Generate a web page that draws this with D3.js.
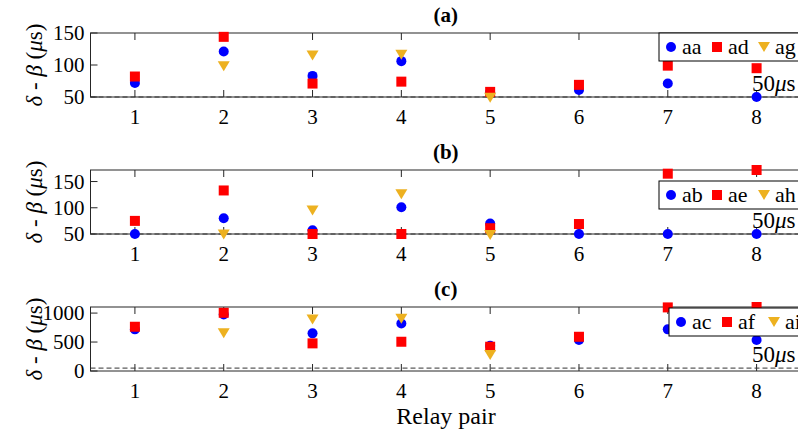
<!DOCTYPE html>
<html>
<head>
<meta charset="utf-8">
<script src="https://cdn.jsdelivr.net/npm/d3@7"></script>
</head>
<body style="margin:0">
<script>
// relay pairs on the x axis
var pairs = [1, 2, 3, 4, 5, 6, 7, 8];

// panel (a)
var aaVals = [72, 121, 83, 106, 57, 61, 71, 50];
var adVals = [82, 144, 71, 74, 58, 69, 99, 95];
var agVals = [null, 98, 115, 116, 49, null, null, null];

// panel (b)
var abVals = [50, 80, 57, 101, 70, 50, 50, 50];
var aeVals = [75, 133, 50, 50, 61, 69, 165, 172];
var ahVals = [null, 49, 95, 126, 48, null, null, null];

// panel (c)
var acVals = [719, 977, 650, 820, 436, 534, 719, 534];
var afVals = [764, 1005, 477, 505, 419, 591, 1098, 1105];
var aiVals = [null, 650, 891, 900, 276, null, null, null];

var panels = [
	{ title: "(a)", names: ["aa", "ad", "ag"], series: [aaVals, adVals, agVals], domain: [50, 150], ticks: [50, 100, 150], top: 33, bottom: 97, legendX: 659, legendY: 33 },
	{ title: "(b)", names: ["ab", "ae", "ah"], series: [abVals, aeVals, ahVals], domain: [50, 172], ticks: [50, 100, 150], top: 170, bottom: 234, legendX: 659, legendY: 181 },
	{ title: "(c)", names: ["ac", "af", "ai"], series: [acVals, afVals, aiVals], domain: [0, 1105], ticks: [0, 500, 1000], top: 307, bottom: 371, legendX: 669, legendY: 308 },
];

var colors = ["#0000ff", "#ff0000", "#edb120"];
var shapes = ["circle", "square", "triangle"];
var limit = 50; // dashed reference line

var width = 798,
	height = 441;
var left = 90.5,
	right = 801;

var svg = d3.select("body").append("svg")
	.attr("width", width).attr("height", height)
	.attr("font-family", "Liberation Serif");

var x = d3.scaleLinear().domain([0.5, 8.5]).range([left, right]);

function drawMarker(g, shape, color, cx, cy) {
	if (shape === "circle") {
		g.append("circle").attr("cx", cx).attr("cy", cy).attr("r", 5).attr("fill", color);
	} else if (shape === "square") {
		g.append("rect").attr("x", cx - 5).attr("y", cy - 5).attr("width", 10).attr("height", 10).attr("fill", color);
	} else {
		g.append("path")
			.attr("d", "M" + (cx - 6) + "," + (cy - 5) + "L" + (cx + 6) + "," + (cy - 5) + "L" + cx + "," + (cy + 5) + "Z")
			.attr("fill", color);
	}
}

function label(g, size) {
	return g.append("text").attr("font-family", "Liberation Serif").attr("font-size", size);
}

panels.forEach(function (p) {
	var y = d3.scaleLinear().domain(p.domain).range([p.bottom, p.top]);
	var g = svg.append("g");

	// box
	g.append("rect")
		.attr("x", left).attr("y", p.top)
		.attr("width", right - left).attr("height", p.bottom - p.top)
		.attr("fill", "none").attr("stroke", "#262626").attr("stroke-width", 1);

	// inward ticks, bottom and top
	pairs.forEach(function (d) {
		g.append("line").attr("x1", x(d)).attr("x2", x(d)).attr("y1", p.bottom).attr("y2", p.bottom - 7).attr("stroke", "#262626");
		g.append("line").attr("x1", x(d)).attr("x2", x(d)).attr("y1", p.top).attr("y2", p.top + 7).attr("stroke", "#262626");
	});
	p.ticks.forEach(function (d) {
		g.append("line").attr("x1", left).attr("x2", left + 7).attr("y1", y(d)).attr("y2", y(d)).attr("stroke", "#262626");
	});

	// tick labels
	pairs.forEach(function (d) {
		label(g, 21).attr("x", x(d)).attr("y", p.bottom + 27)
			.attr("text-anchor", "middle")
			.text(d);
	});
	p.ticks.forEach(function (d) {
		label(g, 21).attr("x", left - 6).attr("y", y(d) + 7)
			.attr("text-anchor", "end")
			.text(d);
	});

	// title
	label(g, 21)
		.attr("x", (left + right) / 2)
		.attr("y", p.top - 11)
		.attr("text-anchor", "middle")
		.attr("font-weight", "bold")
		.text(p.title);

	// y label
	var yl = label(g, 23)
		.attr("transform", "translate(42," + (p.top + p.bottom) / 2 + ") rotate(-90)")
		.attr("text-anchor", "middle");
	yl.append("tspan").attr("font-style", "italic").text("δ");
	yl.append("tspan").text(" - ");
	yl.append("tspan").attr("font-style", "italic").text("β");
	yl.append("tspan").text(" (");
	yl.append("tspan").attr("font-style", "italic").text("μ");
	yl.append("tspan").text("s)");

	// 50us dashed line
	g.append("line")
		.attr("x1", left).attr("x2", right)
		.attr("y1", y(limit)).attr("y2", y(limit))
		.attr("stroke", "#333").attr("stroke-width", 1)
		.attr("stroke-dasharray", "5,3");
	var lt = label(g, 23)
		.attr("x", 752)
		.attr("y", y(limit) - 6);
	lt.append("tspan").text("50");
	lt.append("tspan").attr("font-style", "italic").text("μ");
	lt.append("tspan").text("s");

	// markers
	p.series.forEach(function (vals, si) {
		vals.forEach(function (v, i) {
			if (v === null) return;
			drawMarker(g, shapes[si], colors[si], x(pairs[i]), y(v));
		});
	});

	// legend
	var lg = g.append("g");
	lg.append("rect")
		.attr("x", p.legendX).attr("y", p.legendY)
		.attr("width", 160).attr("height", 28)
		.attr("fill", "#fff").attr("stroke", "#000").attr("stroke-width", 1);
	var offsets = [12, 58, 105];
	p.names.forEach(function (name, si) {
		drawMarker(lg, shapes[si], colors[si], p.legendX + offsets[si], p.legendY + 14);
		label(lg, 22)
			.attr("x", p.legendX + offsets[si] + 11)
			.attr("y", p.legendY + 21)
			.text(name);
	});
});

// x label
label(svg, 24)
	.attr("x", 446)
	.attr("y", 424)
	.attr("text-anchor", "middle")
	.text("Relay pair");
</script>
</body>
</html>
